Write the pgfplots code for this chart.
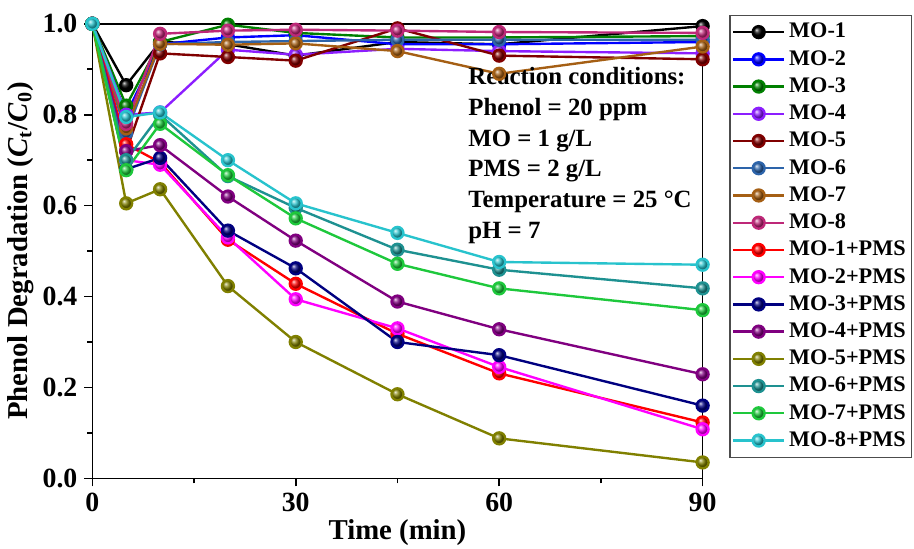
\documentclass[border=0pt]{standalone}
\usepackage{fontspec}
\setmainfont{Liberation Serif}
\usepackage{pgfplots}
\pgfplotsset{compat=1.18}

\definecolor{cMOa}{RGB}{0,0,0}
\definecolor{cMOb}{RGB}{0,0,255}
\definecolor{cMOc}{RGB}{0,128,0}
\definecolor{cMOd}{RGB}{140,30,255}
\definecolor{cMOe}{RGB}{128,0,0}
\definecolor{cMOf}{RGB}{45,100,170}
\definecolor{cMOg}{RGB}{165,95,20}
\definecolor{cMOh}{RGB}{190,40,120}
\definecolor{cPa}{RGB}{255,0,0}
\definecolor{cPb}{RGB}{255,0,255}
\definecolor{cPc}{RGB}{0,0,128}
\definecolor{cPd}{RGB}{128,0,128}
\definecolor{cPe}{RGB}{128,128,0}
\definecolor{cPf}{RGB}{30,145,145}
\definecolor{cPg}{RGB}{30,200,60}
\definecolor{cPh}{RGB}{40,195,205}

\pgfplotsset{
    ser/.style={color=#1, line width=1.2pt, mark=ball, mark size=3pt,
        mark options={ball color=#1}},
}

\begin{document}
\begin{tikzpicture}
    \begin{axis}[
        name=ax,
        scale only axis,
        width=307.5pt,
        height=229pt,
        xmin=0, xmax=90,
        ymin=0, ymax=1,
        xtick={0,30,60,90},
        minor xtick={15,45,75},
        ytick={0,0.2,0.4,0.6,0.8,1.0},
        minor ytick={0.1,0.3,0.5,0.7,0.9},
        xtick pos=bottom,
        ytick pos=left,
        tick align=outside,
        major tick length=4pt,
        minor tick length=2.5pt,
        axis line style={line width=0.8pt},
        tick style={line width=0.8pt, black},
        yticklabel style={
            /pgf/number format/fixed,
            /pgf/number format/fixed zerofill,
            /pgf/number format/precision=1,
        },
        /pgf/number format/assume math mode=true,
        tick label style={font=\fontsize{14}{16}\selectfont\bfseries},
        xlabel={Time (min)},
        ylabel={Phenol Degradation (\textit{C}\textsubscript{t}/\textit{C}\textsubscript{0})},
        label style={font=\fontsize{14.5}{16}\selectfont\bfseries},
        xlabel style={at={(axis description cs:0.5,-0.12)}, anchor=center},
        ylabel style={at={(axis description cs:-0.118,0.5)}, anchor=center},
        legend style={
            at={(1.044,1.02)},
            anchor=north west,
            font=\fontsize{11.2}{13}\selectfont\bfseries,
            draw=black!70,
            line width=0.6pt,
            row sep=0.8pt,
            inner xsep=1pt,
            inner ysep=2pt,
        },
        legend cell align=left,
        legend image code/.code={
            \draw[mark repeat=2, mark phase=2]
                plot coordinates {(0cm,0cm) (0.45cm,0cm) (0.9cm,0cm)};
        },
    ]
    % MO only
    \addplot[ser=cMOa] coordinates {
        (0,1.0) (5,0.865) (10,0.96) (20,0.955) (30,0.93) (45,0.96) (60,0.955) (90,0.995)
    };
    \addlegendentry{MO-1}
    \addplot[ser=cMOb] coordinates {
        (0,1.0) (5,0.80) (10,0.955) (20,0.97) (30,0.975) (45,0.955) (60,0.955) (90,0.96)
    };
    \addlegendentry{MO-2}
    \addplot[ser=cMOc] coordinates {
        (0,1.0) (5,0.82) (10,0.96) (20,0.998) (30,0.98) (45,0.97) (60,0.97) (90,0.973)
    };
    \addlegendentry{MO-3}
    \addplot[ser=cMOd] coordinates {
        (0,1.0) (5,0.80) (10,0.805) (20,0.943) (30,0.932) (45,0.945) (60,0.94) (90,0.935)
    };
    \addlegendentry{MO-4}
    \addplot[ser=cMOe] coordinates {
        (0,1.0) (5,0.72) (10,0.935) (20,0.927) (30,0.919) (45,0.99) (60,0.93) (90,0.922)
    };
    \addlegendentry{MO-5}
    \addplot[ser=cMOf] coordinates {
        (0,1.0) (5,0.76) (10,0.955) (20,0.96) (30,0.962) (45,0.965) (60,0.965) (90,0.965)
    };
    \addlegendentry{MO-6}
    \addplot[ser=cMOg] coordinates {
        (0,1.0) (5,0.77) (10,0.956) (20,0.954) (30,0.957) (45,0.94) (60,0.89) (90,0.95)
    };
    \addlegendentry{MO-7}
    \addplot[ser=cMOh] coordinates {
        (0,1.0) (5,0.78) (10,0.978) (20,0.985) (30,0.987) (45,0.985) (60,0.982) (90,0.98)
    };
    \addlegendentry{MO-8}
    % MO + PMS
    \addplot[ser=cPa] coordinates {
        (0,1.0) (5,0.735) (10,0.695) (20,0.525) (30,0.428) (45,0.318) (60,0.231) (90,0.123)
    };
    \addlegendentry{MO-1+PMS}
    \addplot[ser=cPb] coordinates {
        (0,1.0) (5,0.70) (10,0.69) (20,0.53) (30,0.394) (45,0.33) (60,0.245) (90,0.108)
    };
    \addlegendentry{MO-2+PMS}
    \addplot[ser=cPc] coordinates {
        (0,1.0) (5,0.68) (10,0.705) (20,0.545) (30,0.462) (45,0.30) (60,0.271) (90,0.16)
    };
    \addlegendentry{MO-3+PMS}
    \addplot[ser=cPd] coordinates {
        (0,1.0) (5,0.72) (10,0.733) (20,0.62) (30,0.523) (45,0.389) (60,0.328) (90,0.229)
    };
    \addlegendentry{MO-4+PMS}
    \addplot[ser=cPe] coordinates {
        (0,1.0) (5,0.605) (10,0.636) (20,0.423) (30,0.30) (45,0.185) (60,0.088) (90,0.035)
    };
    \addlegendentry{MO-5+PMS}
    \addplot[ser=cPf] coordinates {
        (0,1.0) (5,0.70) (10,0.80) (20,0.665) (30,0.595) (45,0.503) (60,0.459) (90,0.418)
    };
    \addlegendentry{MO-6+PMS}
    \addplot[ser=cPg] coordinates {
        (0,1.0) (5,0.678) (10,0.78) (20,0.667) (30,0.572) (45,0.472) (60,0.418) (90,0.37)
    };
    \addlegendentry{MO-7+PMS}
    \addplot[ser=cPh] coordinates {
        (0,1.0) (5,0.795) (10,0.805) (20,0.70) (30,0.605) (45,0.54) (60,0.476) (90,0.47)
    };
    \addlegendentry{MO-8+PMS}

    \node[anchor=north west, align=left, inner sep=0pt,
          font=\fontsize{12.5}{15.5}\selectfont\bfseries]
        at (axis cs:55.4,0.905) {Reaction conditions:\\Phenol = 20 ppm\\MO = 1 g/L\\PMS = 2 g/L\\Temperature = 25 \textdegree{}C\\pH = 7};
    \end{axis}
    % page frame with the same margins as the original
    \pgfresetboundingbox
    \path[use as bounding box]
        ([xshift=-46.5pt,yshift=-35.5pt]ax.south west)
        rectangle ([xshift=106.5pt,yshift=12pt]ax.north east);
\end{tikzpicture}
\end{document}
